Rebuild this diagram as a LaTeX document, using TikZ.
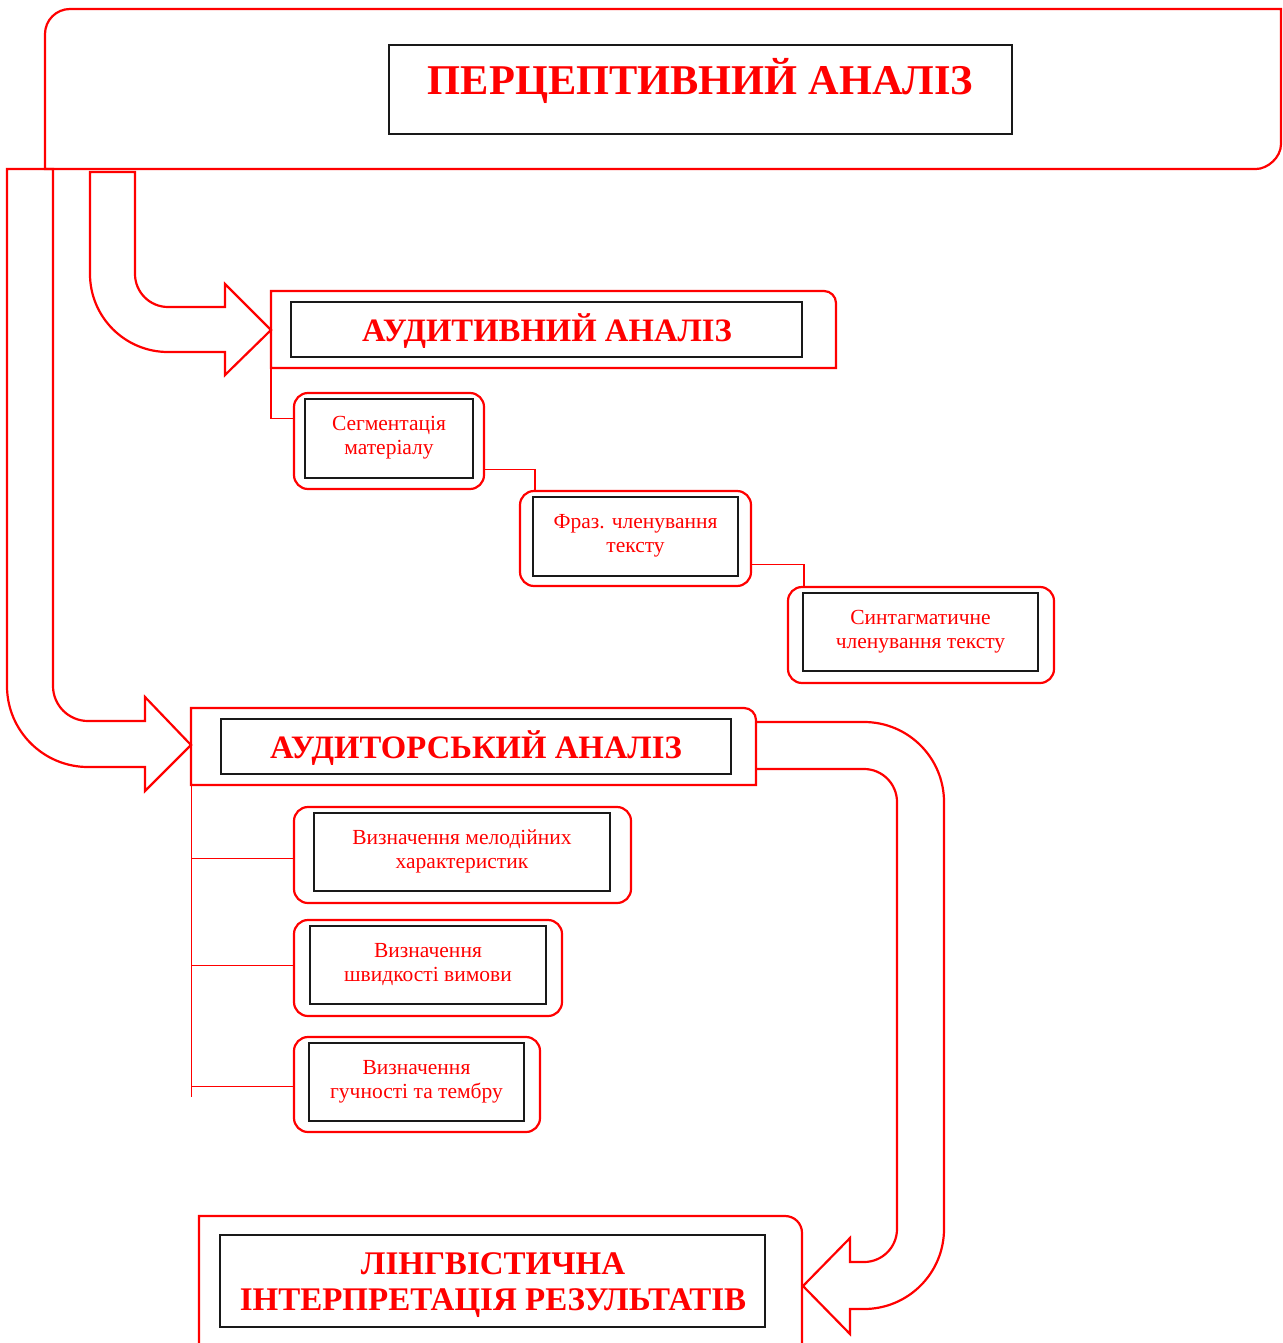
\documentclass[tikz,border=0pt]{standalone}
\usepackage{fontspec}
\setmainfont{Liberation Serif}
\usetikzlibrary{calc}
\tikzset{
  redframe/.style={draw=red, line width=2.2pt, line join=miter},
  redbox/.style={draw=red, line width=2.2pt, rounded corners=14pt, inner sep=0pt},
  innerbox/.style={draw=black!90, line width=1.1pt, inner sep=0pt},
  chain/.style={draw=red, line width=1.5pt},
  thinred/.style={draw=red, line width=0.9pt},
  smalltext/.style={text=red, font=\fontsize{21.5}{24}\selectfont, align=center, inner sep=0pt},
  headtext/.style={text=red, font=\bfseries\fontsize{32.7}{36}\selectfont, align=center, inner sep=0pt},
}
\begin{document}
\begin{tikzpicture}[x=1pt,y=-1pt]
\useasboundingbox (0,0) rectangle (1282,1343);

% ---------- top frame ----------
\draw[redframe] (45,169) -- (45,34) .. controls (45,20.2) and (56.2,9) .. (70,9)
  -- (1281,9) -- (1281,144) .. controls (1281,157.8) and (1267.2,169) .. (1256,169) -- cycle;
\node[innerbox, minimum width=623pt, minimum height=89pt] (titlebox) at (700.5,89.5) {};
\node[text=red, font=\bfseries\fontsize{42.4}{48}\selectfont, inner sep=0pt] (title) at (700.5,81) {ПЕРЦЕПТИВНИЙ АНАЛІЗ};

% ---------- arrow A (to auditorskyi) ----------
\draw[redframe] (7,169) -- (53,169) -- (53,686) .. controls (53,705.3) and (68.7,721) .. (88,721)
  -- (145,721) -- (145,697) -- (191,745) -- (145,791) -- (145,767) -- (88,767)
  .. controls (43.3,767) and (7,730.7) .. (7,686) -- cycle;

% ---------- arrow B (to audytyvnyi) ----------
\draw[redframe] (90,172) -- (135,172) -- (135,274) .. controls (135,292.2) and (149.8,307) .. (168,307)
  -- (225,307) -- (225,284) -- (271,330) -- (225,375) -- (225,352) -- (168,352)
  .. controls (124.9,352) and (90,317.1) .. (90,274) -- cycle;

% ---------- АУДИТИВНИЙ АНАЛІЗ ----------
\draw[redframe] (271,368) -- (271,291) -- (824,291) .. controls (830.6,291) and (836,296.4) .. (836,303)
  -- (836,368) -- cycle;
\coordinate (audsw) at (271,368);
\node[innerbox, minimum width=511pt, minimum height=55pt] (audbox) at (546.5,329.5) {};
\node[headtext] (audt) at (547,331) {АУДИТИВНИЙ АНАЛІЗ};

% chain of boxes
\node[redbox, minimum width=190pt, minimum height=96pt] (seg) at (389,441) {};
\node[innerbox, minimum width=168pt, minimum height=79pt] (segin) at (389,438.5) {};
\node[smalltext] (segt) at (389,438) {Сегментація\\матеріалу};

\node[redbox, minimum width=231pt, minimum height=95pt] (fraz) at (635.5,538.5) {};
\node[innerbox, minimum width=205pt, minimum height=79pt] (frazin) at (635.5,536.5) {};
\node[smalltext] (frazt) at (635.5,536) {Фраз. членування\\тексту};

\node[redbox, minimum width=266pt, minimum height=96pt] (synt) at (921,635) {};
\node[innerbox, minimum width=235pt, minimum height=78pt] (syntin) at (920.5,632) {};
\node[smalltext] (syntt) at (920.5,632) {Синтагматичне\\членування тексту};

\draw[chain] (audsw) |- ($(seg.north west)!0.27!(seg.south west)$);
\draw[chain] ($(seg.north east)!0.79!(seg.south east)$) -| ($(fraz.north west)!0.07!(fraz.north east)$);
\draw[chain] ($(fraz.north east)!0.77!(fraz.south east)$) -| ($(synt.north west)!0.064!(synt.north east)$);

% ---------- АУДИТОРСЬКИЙ АНАЛІЗ ----------
\draw[redframe] (191,785) -- (191,708) -- (744,708) .. controls (750.6,708) and (756,713.4) .. (756,720)
  -- (756,785) -- cycle;
\coordinate (audisw) at (191,785);
\node[innerbox, minimum width=510pt, minimum height=55pt] (audibox) at (476,746.5) {};
\node[headtext] (audit) at (476,748.5) {АУДИТОРСЬКИЙ АНАЛІЗ};

% arrow C (to result)
\draw[redframe] (756,722) -- (864,722) .. controls (908.2,722) and (944,757.8) .. (944,802)
  -- (944,1229) .. controls (944,1273.2) and (908.2,1309) .. (864,1309)
  -- (850,1309) -- (850,1334) -- (803,1286) -- (850,1238) -- (850,1262) -- (864,1262)
  .. controls (882.2,1262) and (897,1247.2) .. (897,1229)
  -- (897,802) .. controls (897,783.8) and (882.2,769) .. (864,769) -- (756,769);

% sub boxes
\node[redbox, minimum width=337pt, minimum height=96pt] (mel) at (462.5,855) {};
\node[innerbox, minimum width=296pt, minimum height=78pt] (melin) at (462,852) {};
\node[smalltext] (melt) at (462,851.5) {Визначення мелодійних\\характеристик};

\node[redbox, minimum width=268pt, minimum height=96pt] (spd) at (428,968) {};
\node[innerbox, minimum width=236pt, minimum height=78pt] (spdin) at (428,965) {};
\node[smalltext] (spdt) at (428,964.5) {Визначення\\швидкості вимови};

\node[redbox, minimum width=246pt, minimum height=95pt] (loud) at (417,1084.5) {};
\node[innerbox, minimum width=215pt, minimum height=78pt] (loudin) at (416.5,1082) {};
\node[smalltext] (loudt) at (416.5,1081.5) {Визначення\\гучності та тембру};

\coordinate (trend) at (191,1097);
\coordinate (tr1) at (191,858);
\coordinate (tr2) at (191,965);
\coordinate (tr3) at (191,1086);
\draw[thinred] (audisw) -- (trend);
\draw[thinred] (tr1) -- (tr1 -| mel.west);
\draw[thinred] (tr2) -- (tr2 -| spd.west);
\draw[thinred] (tr3) -- (tr3 -| loud.west);

% ---------- result ----------
\draw[redframe] (199,1343) -- (199,1216) -- (785,1216) .. controls (794.4,1216) and (802,1223.4) .. (802,1233)
  -- (802,1343);
\node[innerbox, minimum width=545pt, minimum height=92pt] (resbox) at (492.5,1281) {};
\node[text=red, font=\bfseries\fontsize{33}{36.5}\selectfont, align=center, inner sep=0pt] (rest) at (493,1285) {ЛІНГВІСТИЧНА\\ІНТЕРПРЕТАЦІЯ РЕЗУЛЬТАТІВ};
\end{tikzpicture}
\end{document}
